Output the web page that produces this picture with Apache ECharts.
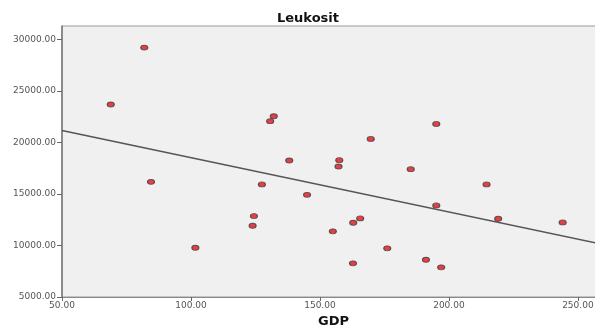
<!DOCTYPE html>
<html>
<head>
<meta charset="utf-8">
<script src="https://cdn.jsdelivr.net/npm/echarts@6/dist/echarts.min.js"></script>
<style>
html,body{margin:0;padding:0;background:#fff;}
#c{width:595px;height:325px;}
</style>
</head>
<body>
<div id="c"></div>
<script>
const gdp = [68.9, 81.9, 84.5, 101.7, 123.9, 124.4, 127.5, 130.7, 132.1, 138.1, 145.0, 155.0, 157.2, 157.5, 162.8, 162.9, 165.6, 169.7, 176.1, 185.2, 191.1, 195.1, 195.1, 197.0, 214.6, 219.1, 244.1];
const leukosit = [23694, 29224, 16185, 9783, 11917, 12858, 15933, 22074, 22559, 18261, 14924, 11374, 17679, 18291, 8269, 12208, 12635, 20357, 9724, 17417, 8618, 21812, 13896, 7881, 15933, 12596, 12247];
const fitX = [50, 257.8];
const fitY = [21162, 10211];
const xTicks = [50, 100, 150, 200, 250];
const yTicks = [5000, 10000, 15000, 20000, 25000, 30000];
const titleText = 'Leukosit';
const xName = 'GDP';

const chart = echarts.init(document.getElementById('c'), null, {renderer: 'canvas'});
const labelFont = {fontFamily: 'DejaVu Sans', fontSize: 9, color: '#555'};
chart.setOption({
  animation: false,
  backgroundColor: '#ffffff',
  title: [
    {text: titleText, left: 277, top: 12, padding: 0, textStyle: {fontFamily: 'DejaVu Sans', fontWeight: 'bold', fontSize: 13, color: '#111'}},
    {text: xName, left: 318, top: 315, padding: 0, textStyle: {fontFamily: 'DejaVu Sans', fontWeight: 'bold', fontSize: 13, color: '#111'}}
  ],
  grid: {left: 62, top: 26, right: -3, bottom: 28, outerBoundsMode: 'none', containLabel: false, show: true, backgroundColor: '#f0f0f0', borderColor: '#999', borderWidth: 1},
  xAxis: {
    type: 'value', min: 50, max: 257.8, interval: 50,
    axisLine: {show: true, onZero: false, lineStyle: {color: '#888', width: 1}},
    axisTick: {show: true, length: 4, customValues: xTicks, lineStyle: {color: '#666'}},
    axisLabel: {customValues: xTicks, margin: 4, formatter: v => v.toFixed(2), ...labelFont},
    splitLine: {show: false}
  },
  yAxis: {
    type: 'value', min: 5000, max: 31320, interval: 5000,
    axisLine: {show: true, onZero: false, lineStyle: {color: '#777', width: 1.5}},
    axisTick: {show: true, length: 5, customValues: yTicks, lineStyle: {color: '#666'}},
    axisLabel: {customValues: yTicks, margin: 6, formatter: v => v.toFixed(2), ...labelFont},
    splitLine: {show: false}
  },
  series: [
    {
      type: 'line',
      data: fitX.map((x, i) => [x, fitY[i]]),
      symbol: 'none',
      lineStyle: {color: '#555', width: 1.5},
      z: 2
    },
    {
      type: 'scatter',
      data: gdp.map((x, i) => [x, leukosit[i]]),
      symbol: 'circle',
      symbolSize: [7, 5],
      itemStyle: {color: '#e0141c', borderColor: '#3a3a3a', borderWidth: 1},
      z: 3
    }
  ]
});
</script>
</body>
</html>
